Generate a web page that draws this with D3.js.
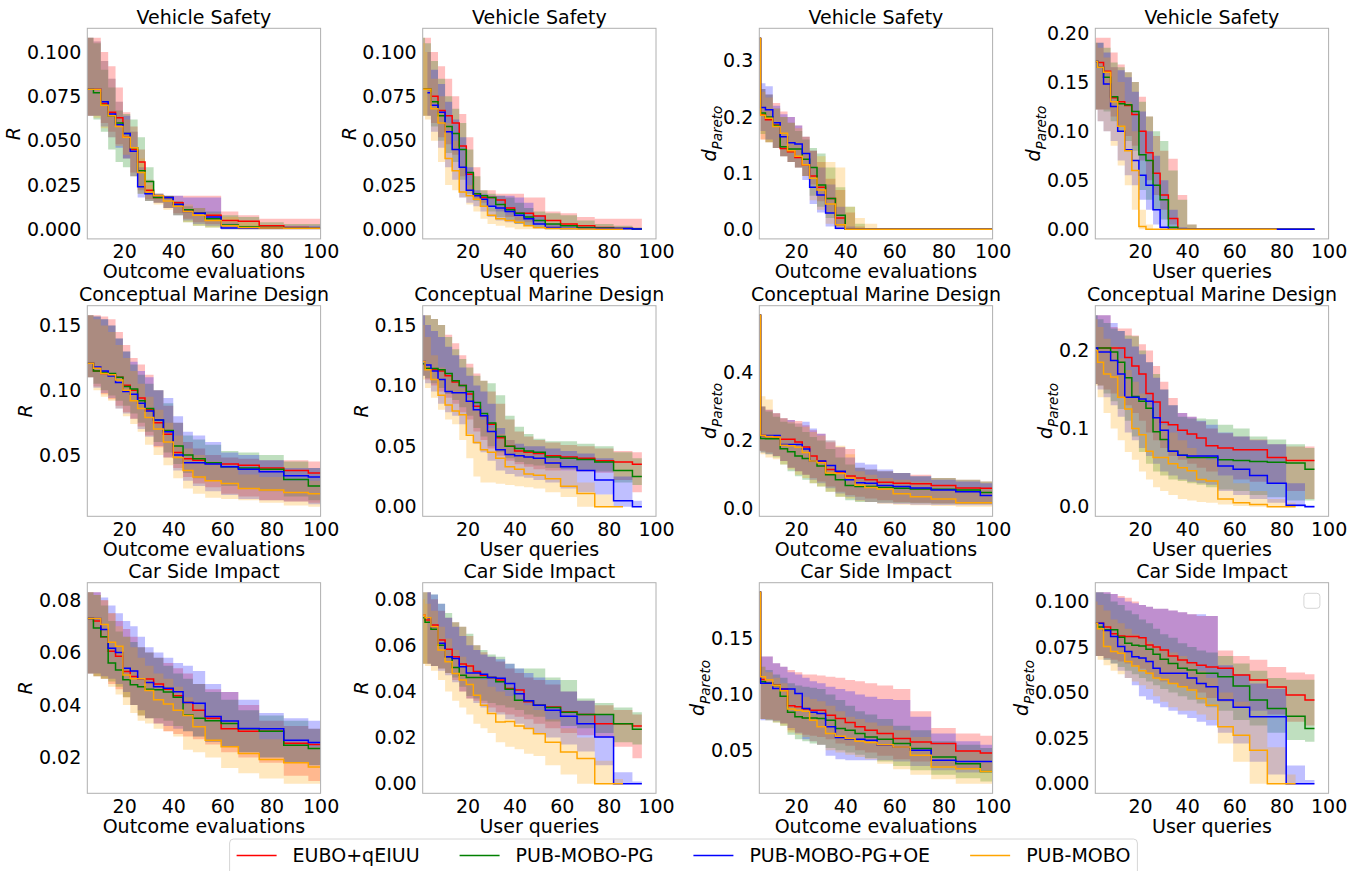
<!DOCTYPE html>
<html>
<head>
<meta charset="utf-8">
<script src="https://cdn.jsdelivr.net/npm/d3@7"></script>
<style>
  body { margin: 0; background: #fff; }
  svg text { font-family: "DejaVu Sans", sans-serif; }
</style>
</head>
<body>
<svg id="chart" width="1364" height="871"></svg>
<script>
var methods = ["EUBO+qEIUU", "PUB-MOBO-PG", "PUB-MOBO-PG+OE", "PUB-MOBO"];
var colors = ["red", "green", "blue", "orange"];

var outcomeX = [5, 6, 9, 12, 15, 18, 21, 24, 27, 30, 34, 38, 42, 46, 50, 56, 63, 70, 80, 90, 100];
var queryX = [1, 3, 6, 9, 12, 15, 18, 21, 24, 27, 30, 34, 38, 42, 46, 50, 56, 63, 70, 78, 86, 94];
var xTicks = [20, 40, 60, 80, 100];

// each block: one row per method, in the order of `methods`

// Vehicle Safety, R, outcome evaluations
var vsRoMean = [
  [0.079,0.079,0.079,0.071,0.066,0.063,0.052,0.045,0.038,0.022,0.018,0.018,0.015,0.011,0.009,0.008,0.005,0.0045,0.002,0.001,0.0006],
  [0.079,0.079,0.077,0.070,0.064,0.060,0.054,0.046,0.033,0.027,0.018,0.018,0.014,0.011,0.009,0.006,0.0025,0.0015,0.001,0.0008,0.0006],
  [0.079,0.079,0.079,0.072,0.065,0.059,0.054,0.044,0.024,0.020,0.019,0.018,0.014,0.010,0.009,0.007,0.0008,0.0008,0.0008,0.0006,0.0006],
  [0.079,0.079,0.079,0.070,0.064,0.058,0.052,0.046,0.032,0.021,0.019,0.016,0.013,0.010,0.008,0.005,0.002,0.001,0.0008,0.0006,0.0006]
];
var vsRoHi = [
  [0.108,0.108,0.108,0.100,0.092,0.080,0.066,0.058,0.045,0.028,0.020,0.019,0.019,0.019,0.019,0.019,0.010,0.008,0.006,0.006,0.006],
  [0.108,0.108,0.105,0.090,0.080,0.067,0.065,0.062,0.052,0.035,0.020,0.019,0.016,0.013,0.012,0.010,0.008,0.007,0.004,0.003,0.003],
  [0.108,0.108,0.106,0.095,0.085,0.072,0.064,0.055,0.035,0.022,0.020,0.019,0.019,0.018,0.018,0.018,0.004,0.002,0.002,0.002,0.002],
  [0.108,0.108,0.106,0.095,0.085,0.072,0.062,0.055,0.040,0.025,0.020,0.018,0.016,0.014,0.012,0.009,0.007,0.004,0.002,0.001,0.001]
];
var vsRoLo = [
  [0.064,0.064,0.064,0.060,0.055,0.048,0.040,0.032,0.022,0.017,0.015,0.012,0.009,0.006,0.004,0.003,0.001,0,0,0,0],
  [0.064,0.064,0.062,0.055,0.045,0.038,0.035,0.030,0.020,0.016,0.015,0.012,0.008,0.004,0.002,0.001,0,0,0,0,0],
  [0.064,0.064,0.064,0.058,0.052,0.046,0.040,0.030,0.018,0.016,0.015,0.012,0.008,0.005,0.003,0.002,0,0,0,0,0],
  [0.064,0.064,0.063,0.057,0.052,0.047,0.042,0.030,0.020,0.016,0.014,0.011,0.008,0.004,0.002,0.001,0,0,0,0,0]
];

// Vehicle Safety, R, user queries
var vsRqMean = [
  [0.079,0.079,0.075,0.067,0.064,0.060,0.047,0.031,0.020,0.018,0.018,0.0165,0.012,0.009,0.009,0.0075,0.005,0.003,0.002,0.001,0.0005,0.0002],
  [0.079,0.079,0.072,0.064,0.058,0.054,0.045,0.032,0.020,0.019,0.018,0.014,0.011,0.009,0.007,0.005,0.003,0.002,0.001,0.0008,0.0005,0.0002],
  [null,0.077,0.070,0.066,0.055,0.045,0.035,0.022,0.019,0.017,0.013,0.012,0.010,0.008,0.006,0.003,0.001,0.0005,0.0005,0.0005,0.0005,0.0002],
  [0.079,0.079,0.068,0.060,0.040,0.033,0.021,0.019,0.017,0.013,0.008,0.006,0.005,0.004,0.002,0.001,0.0005,0.0003,0.0002,0,0,null]
];
var vsRqHi = [
  [0.108,0.108,0.100,0.092,0.085,0.075,0.065,0.052,0.035,0.022,0.022,0.020,0.020,0.020,0.018,0.018,0.010,0.009,0.007,0.006,0.006,0.006],
  [0.108,0.105,0.095,0.085,0.075,0.068,0.060,0.045,0.030,0.022,0.020,0.019,0.018,0.015,0.012,0.010,0.009,0.008,0.005,0.003,0.002,0.001],
  [null,0.100,0.090,0.082,0.072,0.062,0.052,0.035,0.022,0.020,0.019,0.019,0.019,0.018,0.015,0.008,0.003,0.002,0.001,0.001,0.001,0.0005],
  [0.105,0.100,0.085,0.075,0.060,0.050,0.035,0.025,0.020,0.018,0.012,0.010,0.008,0.007,0.005,0.003,0.002,0.001,0.0005,0,0,null]
];
var vsRqLo = [
  [0.064,0.064,0.060,0.052,0.048,0.042,0.030,0.022,0.017,0.015,0.013,0.010,0.007,0.005,0.004,0.003,0.001,0.0005,0,0,0,0],
  [0.064,0.064,0.058,0.050,0.043,0.038,0.028,0.020,0.016,0.013,0.010,0.007,0.005,0.003,0.002,0.001,0,0,0,0,0,0],
  [null,0.064,0.055,0.046,0.035,0.028,0.018,0.015,0.013,0.010,0.007,0.005,0.004,0.003,0.002,0.0005,0,0,0,0,0,0],
  [0.064,0.062,0.050,0.038,0.025,0.022,0.018,0.014,0.010,0.006,0.003,0.002,0.001,0,0,0,0,0,0,0,0,null]
];

// Vehicle Safety, d_Pareto, outcome evaluations
var vsDoMean = [
  [0.34,0.204,0.195,0.186,0.144,0.138,0.128,0.115,0.095,0.075,0.055,0.020,0,0,0,0,0,0,0,0,0],
  [0.34,0.207,0.200,0.185,0.147,0.143,0.143,0.125,0.110,0.079,0.055,0.025,0,0,0,0,0,0,0,0,0],
  [0.34,0.217,0.213,0.190,0.165,0.154,0.152,0.135,0.075,0.061,0.029,0.002,0,0,0,0,0,0,0,0,0],
  [0.34,0.203,0.198,0.183,0.171,0.140,0.130,0.115,0.091,0.070,0.045,0.008,0,0,0,0,0,0,0,0,0]
];
var vsDoHi = [
  [0.341,0.25,0.24,0.225,0.21,0.20,0.185,0.165,0.14,0.12,0.09,0.07,0.03,0.005,0,0,0,0,0,0,0],
  [0.341,0.25,0.24,0.215,0.20,0.19,0.175,0.16,0.145,0.135,0.11,0.075,0.04,0.01,0,0,0,0,0,0,0],
  [0.341,0.26,0.255,0.22,0.205,0.20,0.185,0.165,0.14,0.11,0.08,0.04,0.005,0,0,0,0,0,0,0,0],
  [0.341,0.245,0.235,0.215,0.20,0.19,0.18,0.165,0.14,0.13,0.12,0.11,0.04,0.02,0.01,0.002,0,0,0,0,0]
];
var vsDoLo = [
  [0.30,0.16,0.155,0.145,0.13,0.12,0.11,0.095,0.08,0.05,0.03,0.005,0,0,0,0,0,0,0,0,0],
  [0.30,0.17,0.155,0.145,0.13,0.12,0.11,0.095,0.06,0.04,0.02,0.005,0,0,0,0,0,0,0,0,0],
  [0.30,0.175,0.16,0.145,0.13,0.12,0.11,0.088,0.045,0.03,0.005,0,0,0,0,0,0,0,0,0,0],
  [0.30,0.16,0.155,0.145,0.13,0.12,0.11,0.095,0.052,0.035,0.01,0,0,0,0,0,0,0,0,0,0]
];

// Vehicle Safety, d_Pareto, user queries
var vsDqMean = [
  [0.171,0.170,0.161,0.134,0.130,0.126,0.117,0.100,0.078,0.057,0.035,0.011,0,0,0,0,0,0,0,0,0,0],
  [0.171,0.165,0.155,0.135,0.128,0.127,0.120,0.076,0.070,0.045,0.030,0.002,0,0,0,0,0,0,0,0,0,0],
  [0.171,0.165,0.148,0.125,0.100,0.081,0.070,0.055,0.045,0.020,0.002,0,0,0,0,0,0,0,0,0,0,0],
  [0.171,0.165,0.160,0.130,0.105,0.080,0.060,0.003,0,0,0,0,0,0,0,0,0,0,0,0,null,null]
];
var vsDqHi = [
  [0.195,0.195,0.195,0.180,0.168,0.160,0.150,0.135,0.115,0.095,0.080,0.072,0.035,0.005,0,0,0,0,0,0,0,0],
  [0.19,0.19,0.185,0.17,0.165,0.16,0.15,0.13,0.115,0.10,0.09,0.06,0.03,0.005,0,0,0,0,0,0,0,0],
  [0.19,0.19,0.18,0.165,0.162,0.155,0.14,0.12,0.10,0.075,0.05,0.02,0.002,0,0,0,0,0,0,0,0,0],
  [0.19,0.185,0.175,0.165,0.15,0.13,0.10,0.02,0.005,0,0,0,0,0,0,0,0,0,0,0,null,null]
];
var vsDqLo = [
  [0.122,0.122,0.122,0.115,0.105,0.095,0.085,0.07,0.05,0.035,0.02,0.005,0,0,0,0,0,0,0,0,0,0],
  [0.122,0.122,0.12,0.11,0.10,0.09,0.08,0.04,0.03,0.02,0.01,0,0,0,0,0,0,0,0,0,0,0],
  [0.122,0.11,0.10,0.09,0.07,0.055,0.045,0.03,0.02,0.005,0,0,0,0,0,0,0,0,0,0,0,0],
  [0.122,0.11,0.10,0.085,0.065,0.045,0.02,0,0,0,0,0,0,0,0,0,0,0,0,0,null,null]
];

// Conceptual Marine Design, R, outcome evaluations
var cmRoMean = [
  [0.121,0.121,0.115,0.113,0.112,0.110,0.104,0.100,0.094,0.085,0.075,0.066,0.052,0.047,0.046,0.044,0.043,0.042,0.040,0.038,0.036],
  [0.121,0.121,0.115,0.114,0.113,0.110,0.103,0.101,0.092,0.086,0.077,0.069,0.057,0.050,0.047,0.044,0.041,0.040,0.039,0.031,0.026],
  [0.121,0.121,0.118,0.115,0.111,0.106,0.099,0.097,0.090,0.084,0.077,0.068,0.050,0.044,0.044,0.043,0.041,0.039,0.037,0.034,0.033],
  [0.121,0.121,0.117,0.113,0.112,0.108,0.100,0.092,0.086,0.079,0.070,0.060,0.048,0.038,0.033,0.030,0.028,0.024,0.023,0.021,0.020]
];
var cmRoHi = [
  [0.158,0.158,0.158,0.157,0.155,0.145,0.135,0.125,0.120,0.112,0.100,0.088,0.075,0.060,0.055,0.050,0.048,0.047,0.046,0.046,0.045],
  [0.158,0.158,0.157,0.155,0.150,0.140,0.130,0.120,0.112,0.105,0.100,0.090,0.075,0.065,0.062,0.058,0.053,0.052,0.050,0.045,0.040],
  [0.158,0.158,0.157,0.155,0.150,0.140,0.130,0.122,0.115,0.110,0.100,0.094,0.080,0.068,0.065,0.060,0.052,0.050,0.046,0.040,0.040],
  [0.158,0.158,0.155,0.150,0.145,0.135,0.125,0.115,0.105,0.095,0.085,0.075,0.065,0.055,0.050,0.045,0.040,0.035,0.033,0.030,0.030]
];
var cmRoLo = [
  [0.110,0.110,0.103,0.097,0.093,0.088,0.083,0.078,0.072,0.065,0.056,0.048,0.040,0.033,0.028,0.025,0.020,0.018,0.015,0.014,0.013],
  [0.110,0.110,0.105,0.100,0.096,0.092,0.088,0.082,0.075,0.068,0.060,0.052,0.043,0.036,0.032,0.030,0.026,0.024,0.022,0.018,0.015],
  [0.110,0.110,0.102,0.098,0.094,0.086,0.082,0.078,0.070,0.064,0.057,0.048,0.038,0.030,0.026,0.022,0.019,0.016,0.015,0.014,0.012],
  [0.110,0.110,0.100,0.095,0.092,0.086,0.080,0.074,0.068,0.058,0.050,0.042,0.032,0.024,0.020,0.017,0.016,0.015,0.013,0.011,0.010]
];

// Conceptual Marine Design, R, user queries
var cmRqMean = [
  [0.118,0.114,0.113,0.112,0.108,0.103,0.100,0.093,0.083,0.075,0.068,0.057,0.050,0.046,0.045,0.044,0.042,0.041,0.040,0.038,0.037,0.035],
  [0.118,0.114,0.114,0.113,0.110,0.104,0.100,0.095,0.086,0.077,0.069,0.058,0.050,0.048,0.046,0.045,0.041,0.040,0.039,0.037,0.030,0.025],
  [0.120,0.117,0.112,0.105,0.095,0.094,0.094,0.087,0.080,0.075,0.062,0.047,0.043,0.042,0.041,0.040,0.036,0.033,0.030,0.022,0.005,0.000],
  [0.120,0.113,0.105,0.092,0.084,0.079,0.076,0.059,0.053,0.047,0.045,0.040,0.033,0.031,0.027,0.026,0.023,0.017,0.011,0,0,null]
];
var cmRqHi = [
  [0.158,0.158,0.155,0.150,0.142,0.135,0.125,0.118,0.110,0.104,0.095,0.085,0.072,0.062,0.058,0.055,0.053,0.051,0.050,0.048,0.046,0.045],
  [0.158,0.158,0.155,0.150,0.140,0.130,0.122,0.115,0.108,0.104,0.102,0.092,0.075,0.066,0.060,0.056,0.054,0.054,0.052,0.050,0.045,0.040],
  [0.158,0.150,0.145,0.140,0.132,0.125,0.115,0.108,0.100,0.095,0.085,0.065,0.055,0.052,0.050,0.050,0.048,0.046,0.044,0.040,0.025,0.005],
  [0.150,0.140,0.125,0.115,0.108,0.103,0.098,0.090,0.080,0.072,0.065,0.060,0.055,0.048,0.045,0.042,0.038,0.030,0.020,0.010,0,null]
];
var cmRqLo = [
  [0.108,0.105,0.100,0.095,0.090,0.085,0.078,0.072,0.062,0.055,0.048,0.042,0.038,0.035,0.033,0.031,0.030,0.030,0.029,0.028,0.022,0.012],
  [0.108,0.106,0.102,0.098,0.093,0.088,0.082,0.075,0.065,0.058,0.050,0.045,0.040,0.037,0.035,0.034,0.032,0.031,0.030,0.029,0.020,0.018],
  [0.108,0.102,0.095,0.085,0.078,0.075,0.068,0.060,0.052,0.045,0.038,0.030,0.027,0.025,0.024,0.022,0.020,0.015,0.012,0.010,0,0],
  [0.105,0.098,0.090,0.080,0.072,0.068,0.055,0.040,0.025,0.020,0.020,0.019,0.018,0.017,0.016,0.015,0.012,0.008,0,0,0,null]
];

// Conceptual Marine Design, d_Pareto, outcome evaluations
var cmDoMean = [
  [0.567,0.215,0.212,0.210,0.204,0.204,0.196,0.181,0.155,0.139,0.115,0.108,0.096,0.090,0.085,0.078,0.075,0.073,0.068,0.061,0.060],
  [0.567,0.206,0.205,0.205,0.176,0.167,0.155,0.147,0.139,0.125,0.100,0.085,0.068,0.065,0.065,0.062,0.060,0.058,0.057,0.055,0.048],
  [0.567,0.215,0.215,0.215,0.188,0.188,0.188,0.175,0.140,0.140,0.127,0.110,0.085,0.076,0.075,0.068,0.065,0.061,0.055,0.050,0.039],
  [0.567,0.215,0.212,0.210,0.186,0.185,0.180,0.165,0.140,0.135,0.105,0.103,0.090,0.069,0.062,0.058,0.044,0.035,0.029,0.018,0.018]
];
var cmDoHi = [
  [0.567,0.30,0.29,0.28,0.265,0.26,0.257,0.245,0.23,0.22,0.195,0.18,0.175,0.12,0.115,0.11,0.105,0.10,0.09,0.085,0.08],
  [0.567,0.30,0.285,0.27,0.255,0.25,0.24,0.225,0.21,0.20,0.175,0.15,0.13,0.12,0.115,0.11,0.105,0.095,0.09,0.085,0.08],
  [0.567,0.30,0.29,0.28,0.265,0.26,0.25,0.255,0.235,0.22,0.20,0.18,0.15,0.135,0.13,0.115,0.105,0.095,0.085,0.08,0.075],
  [0.567,0.33,0.32,0.28,0.265,0.255,0.25,0.24,0.225,0.215,0.20,0.185,0.16,0.11,0.10,0.09,0.085,0.08,0.07,0.06,0.06]
];
var cmDoLo = [
  [0.17,0.17,0.165,0.155,0.14,0.12,0.11,0.10,0.09,0.08,0.065,0.05,0.04,0.035,0.03,0.025,0.02,0.018,0.016,0.015,0.015],
  [0.17,0.165,0.16,0.15,0.13,0.11,0.095,0.085,0.075,0.065,0.05,0.035,0.025,0.02,0.02,0.018,0.017,0.016,0.015,0.014,0.014],
  [0.17,0.165,0.16,0.155,0.14,0.12,0.11,0.10,0.085,0.075,0.06,0.045,0.035,0.025,0.02,0.016,0.014,0.012,0.011,0.010,0.010],
  [0.17,0.16,0.15,0.145,0.13,0.115,0.10,0.09,0.075,0.065,0.05,0.035,0.03,0.022,0.02,0.015,0.012,0.01,0.008,0.006,0.006]
];

// Conceptual Marine Design, d_Pareto, user queries
var cmDqMean = [
  [0.203,0.203,0.203,0.203,0.203,0.191,0.180,0.170,0.145,0.134,0.108,0.105,0.098,0.093,0.088,0.078,0.075,0.073,0.073,0.063,0.059,0.059],
  [0.203,0.203,0.203,0.198,0.185,0.165,0.141,0.135,0.126,0.096,0.086,0.071,0.066,0.063,0.063,0.063,0.060,0.059,0.058,0.057,0.056,0.048],
  [0.203,0.198,0.198,0.187,0.170,0.140,0.140,0.138,0.135,0.114,0.098,0.071,0.066,0.065,0.065,0.065,0.052,0.048,0.040,0.030,0.002,0.000],
  [0.200,0.185,0.170,0.166,0.140,0.125,0.100,0.092,0.071,0.063,0.063,0.055,0.050,0.046,0.035,0.033,0.010,0.005,0.003,0,0,null]
];
var cmDqHi = [
  [0.245,0.245,0.245,0.230,0.228,0.228,0.219,0.208,0.200,0.180,0.160,0.139,0.120,0.115,0.109,0.100,0.094,0.090,0.086,0.080,0.077,0.077],
  [0.245,0.240,0.235,0.228,0.225,0.219,0.218,0.200,0.185,0.170,0.150,0.130,0.115,0.113,0.113,0.112,0.105,0.100,0.090,0.086,0.080,0.075],
  [0.245,0.245,0.245,0.235,0.225,0.215,0.205,0.195,0.185,0.165,0.150,0.130,0.120,0.115,0.110,0.105,0.095,0.090,0.085,0.080,0.030,0.002],
  [0.240,0.230,0.215,0.205,0.190,0.175,0.160,0.145,0.130,0.115,0.105,0.095,0.085,0.075,0.065,0.060,0.040,0.030,0.020,0.010,0.005,null]
];
var cmDqLo = [
  [0.157,0.155,0.150,0.145,0.140,0.130,0.120,0.110,0.095,0.085,0.075,0.065,0.060,0.055,0.050,0.045,0.040,0.035,0.032,0.030,0.020,0.010],
  [0.157,0.155,0.145,0.135,0.125,0.110,0.090,0.070,0.055,0.045,0.040,0.035,0.033,0.030,0.028,0.025,0.022,0.020,0.015,0.012,0.008,0.008],
  [0.157,0.150,0.140,0.130,0.115,0.095,0.085,0.075,0.065,0.055,0.045,0.040,0.035,0.032,0.030,0.028,0.020,0.015,0.010,0.005,0,0],
  [0.155,0.140,0.120,0.100,0.085,0.070,0.060,0.045,0.035,0.025,0.020,0.015,0.010,0.008,0.006,0.005,0.003,0.001,0,0,0,null]
];

// Car Side Impact, R, outcome evaluations
var csRoMean = [
  [0.073,0.073,0.072,0.066,0.0605,0.0586,0.0528,0.0509,0.050,0.0499,0.048,0.046,0.0435,0.041,0.038,0.035,0.031,0.030,0.030,0.0254,0.025],
  [0.073,0.073,0.0694,0.066,0.056,0.0534,0.0496,0.0477,0.047,0.046,0.0458,0.045,0.043,0.0362,0.035,0.034,0.033,0.031,0.030,0.0247,0.0234],
  [0.073,0.073,0.073,0.0688,0.0617,0.060,0.054,0.053,0.050,0.0486,0.047,0.0464,0.0451,0.041,0.0407,0.0356,0.0339,0.0311,0.031,0.0266,0.0257],
  [0.073,0.073,0.073,0.0707,0.0639,0.0624,0.0515,0.050,0.050,0.0455,0.042,0.0404,0.038,0.036,0.0317,0.0266,0.0241,0.0215,0.0192,0.018,0.0164]
];
var csRoHi = [
  [0.083,0.083,0.083,0.080,0.075,0.072,0.069,0.066,0.062,0.060,0.058,0.056,0.054,0.052,0.048,0.046,0.045,0.040,0.034,0.032,0.031],
  [0.083,0.083,0.082,0.078,0.072,0.068,0.066,0.064,0.062,0.060,0.058,0.055,0.052,0.050,0.048,0.045,0.042,0.038,0.036,0.034,0.031],
  [0.083,0.083,0.083,0.081,0.078,0.075,0.072,0.070,0.066,0.062,0.060,0.058,0.056,0.055,0.053,0.048,0.045,0.042,0.037,0.035,0.034],
  [0.083,0.083,0.082,0.080,0.075,0.070,0.066,0.062,0.058,0.055,0.052,0.050,0.047,0.043,0.040,0.036,0.034,0.031,0.027,0.025,0.024]
];
var csRoLo = [
  [0.052,0.052,0.051,0.050,0.048,0.046,0.043,0.040,0.036,0.035,0.033,0.030,0.029,0.028,0.027,0.025,0.022,0.020,0.018,0.013,0.011],
  [0.052,0.052,0.051,0.050,0.049,0.047,0.043,0.040,0.036,0.035,0.035,0.034,0.032,0.030,0.028,0.026,0.024,0.022,0.020,0.018,0.017],
  [0.052,0.052,0.052,0.051,0.050,0.048,0.045,0.040,0.038,0.035,0.033,0.032,0.031,0.030,0.028,0.026,0.024,0.022,0.020,0.018,0.017],
  [0.052,0.052,0.051,0.050,0.047,0.044,0.040,0.037,0.034,0.033,0.031,0.030,0.028,0.023,0.022,0.020,0.016,0.014,0.012,0.010,0.010]
];

// Car Side Impact, R, user queries
var csRqMean = [
  [0.073,0.071,0.0688,0.0623,0.0583,0.055,0.0519,0.051,0.0486,0.047,0.046,0.045,0.0413,0.0406,0.0355,0.034,0.0333,0.0312,0.030,0.026,0.026,0.025],
  [0.072,0.070,0.067,0.060,0.055,0.0504,0.047,0.046,0.046,0.046,0.046,0.0442,0.041,0.0362,0.036,0.034,0.033,0.031,0.030,0.030,0.026,0.0236],
  [null,0.0717,0.068,0.0609,0.055,0.0543,0.0507,0.048,0.048,0.0475,0.046,0.0457,0.0435,0.039,0.036,0.034,0.0319,0.0293,0.026,0.0203,0,0],
  [0.073,0.072,0.068,0.058,0.0529,0.0478,0.045,0.043,0.0384,0.034,0.0304,0.0268,0.027,0.025,0.0239,0.0217,0.018,0.0138,0.0109,0,0,null]
];
var csRqHi = [
  [0.083,0.083,0.080,0.075,0.072,0.070,0.068,0.064,0.060,0.057,0.055,0.053,0.050,0.048,0.046,0.045,0.043,0.040,0.036,0.034,0.032,0.030],
  [0.083,0.083,0.082,0.078,0.074,0.070,0.068,0.065,0.060,0.058,0.056,0.055,0.052,0.050,0.050,0.050,0.046,0.045,0.037,0.035,0.033,0.031],
  [null,0.083,0.082,0.078,0.072,0.068,0.064,0.060,0.058,0.056,0.055,0.054,0.052,0.050,0.048,0.046,0.045,0.040,0.036,0.030,0.005,0.001],
  [0.080,0.078,0.075,0.068,0.063,0.058,0.055,0.052,0.048,0.045,0.042,0.040,0.038,0.036,0.034,0.032,0.028,0.024,0.020,0.010,0.002,null]
];
var csRqLo = [
  [0.052,0.052,0.051,0.050,0.048,0.045,0.040,0.037,0.036,0.035,0.033,0.031,0.030,0.029,0.028,0.026,0.024,0.022,0.021,0.020,0.016,0.011],
  [0.052,0.052,0.051,0.050,0.048,0.046,0.042,0.038,0.037,0.036,0.035,0.034,0.033,0.032,0.030,0.029,0.027,0.025,0.024,0.022,0.018,0.017],
  [null,0.052,0.051,0.049,0.047,0.044,0.040,0.037,0.035,0.033,0.031,0.030,0.028,0.026,0.024,0.022,0.020,0.017,0.014,0.008,0,0],
  [0.052,0.051,0.049,0.045,0.040,0.036,0.033,0.030,0.026,0.024,0.022,0.018,0.016,0.015,0.013,0.012,0.008,0.004,0,0,0,null]
];

// Car Side Impact, d_Pareto, outcome evaluations
var csDoMean = [
  [0.1917,0.1135,0.110,0.1084,0.105,0.090,0.089,0.087,0.086,0.086,0.0814,0.0784,0.075,0.071,0.068,0.065,0.0605,0.0575,0.056,0.0494,0.0476],
  [0.1917,0.1114,0.110,0.108,0.0985,0.084,0.080,0.079,0.079,0.0784,0.077,0.0695,0.068,0.065,0.062,0.060,0.056,0.0515,0.044,0.038,0.031],
  [0.1917,0.110,0.110,0.1054,0.105,0.105,0.101,0.0874,0.084,0.083,0.071,0.0614,0.060,0.060,0.059,0.0545,0.053,0.050,0.041,0.040,0.040],
  [0.1917,0.1159,0.113,0.108,0.1033,0.087,0.086,0.085,0.077,0.071,0.065,0.0626,0.0605,0.058,0.057,0.055,0.053,0.0455,0.035,0.0335,0.031]
];
var csDoHi = [
  [0.1917,0.134,0.134,0.128,0.125,0.122,0.12,0.118,0.118,0.117,0.116,0.115,0.113,0.112,0.110,0.108,0.105,0.085,0.07,0.065,0.063],
  [0.1917,0.125,0.122,0.118,0.115,0.11,0.108,0.107,0.106,0.105,0.10,0.095,0.09,0.085,0.082,0.078,0.072,0.068,0.058,0.055,0.052],
  [0.1917,0.134,0.134,0.128,0.125,0.12,0.118,0.115,0.112,0.11,0.107,0.105,0.103,0.10,0.098,0.096,0.095,0.08,0.065,0.058,0.055],
  [0.1917,0.125,0.12,0.115,0.11,0.105,0.10,0.098,0.096,0.094,0.09,0.085,0.08,0.078,0.075,0.072,0.068,0.062,0.055,0.05,0.048]
];
var csDoLo = [
  [0.11,0.078,0.078,0.077,0.074,0.068,0.066,0.064,0.063,0.062,0.060,0.056,0.054,0.050,0.048,0.045,0.042,0.040,0.036,0.034,0.032],
  [0.11,0.078,0.077,0.075,0.072,0.064,0.060,0.058,0.056,0.055,0.052,0.050,0.048,0.046,0.043,0.040,0.036,0.032,0.028,0.025,0.022],
  [0.11,0.077,0.077,0.076,0.074,0.070,0.065,0.060,0.058,0.055,0.045,0.042,0.041,0.041,0.041,0.041,0.040,0.036,0.032,0.030,0.030],
  [0.11,0.078,0.077,0.075,0.072,0.066,0.064,0.062,0.058,0.055,0.050,0.048,0.046,0.044,0.042,0.038,0.033,0.028,0.024,0.020,0.020]
];

// Car Side Impact, d_Pareto, user queries
var csDqMean = [
  [0.088,0.088,0.086,0.0822,0.081,0.0807,0.0807,0.080,0.0761,0.075,0.0734,0.070,0.0679,0.0664,0.065,0.064,0.0633,0.0596,0.0569,0.053,0.0486,0.0459],
  [0.088,0.086,0.0844,0.0844,0.0804,0.077,0.076,0.0756,0.0738,0.071,0.0683,0.066,0.0633,0.0624,0.0606,0.0606,0.0587,0.0536,0.0459,0.0413,0.037,0.0303],
  [0.088,0.088,0.084,0.0807,0.0752,0.0725,0.0697,0.069,0.067,0.0633,0.0606,0.0606,0.0606,0.058,0.055,0.0532,0.0459,0.042,0.0367,0.0367,0,0],
  [0.088,0.085,0.0752,0.0725,0.0716,0.067,0.0646,0.062,0.0606,0.058,0.0572,0.055,0.0532,0.0514,0.0468,0.0431,0.0312,0.0266,0.0183,0,0,null]
];
var csDqHi = [
  [0.105,0.105,0.105,0.104,0.103,0.102,0.100,0.098,0.097,0.096,0.096,0.095,0.094,0.093,0.092,0.092,0.073,0.070,0.068,0.064,0.061,0.060],
  [0.105,0.105,0.104,0.100,0.098,0.095,0.093,0.090,0.088,0.085,0.082,0.080,0.077,0.075,0.073,0.072,0.070,0.066,0.062,0.058,0.057,0.057],
  [0.105,0.105,0.105,0.104,0.102,0.100,0.099,0.098,0.097,0.096,0.096,0.095,0.094,0.093,0.093,0.092,0.065,0.060,0.055,0.052,0.010,0.002],
  [0.100,0.098,0.095,0.090,0.088,0.085,0.082,0.080,0.078,0.076,0.074,0.072,0.070,0.066,0.062,0.058,0.050,0.045,0.040,0.020,0.005,null]
];
var csDqLo = [
  [0.070,0.070,0.069,0.068,0.067,0.066,0.065,0.063,0.060,0.058,0.056,0.055,0.053,0.052,0.050,0.047,0.045,0.042,0.040,0.038,0.034,0.032],
  [0.070,0.070,0.068,0.066,0.064,0.062,0.060,0.058,0.056,0.054,0.052,0.050,0.048,0.046,0.044,0.042,0.040,0.035,0.032,0.028,0.024,0.023],
  [0.070,0.070,0.068,0.066,0.062,0.058,0.054,0.048,0.046,0.044,0.042,0.040,0.038,0.036,0.034,0.032,0.028,0.022,0.012,0.005,0,0],
  [0.070,0.068,0.065,0.062,0.060,0.058,0.056,0.054,0.052,0.048,0.045,0.042,0.040,0.040,0.038,0.035,0.022,0.012,0,0,0,null]
];

// y tick values for each panel
var vsRoTicks = [0, 0.025, 0.05, 0.075, 0.1];
var vsRqTicks = [0, 0.025, 0.05, 0.075, 0.1];
var vsDoTicks = [0, 0.1, 0.2, 0.3];
var vsDqTicks = [0, 0.05, 0.1, 0.15, 0.2];
var cmRoTicks = [0.05, 0.1, 0.15];
var cmRqTicks = [0, 0.05, 0.1, 0.15];
var cmDoTicks = [0, 0.2, 0.4];
var cmDqTicks = [0, 0.1, 0.2];
var csRoTicks = [0.02, 0.04, 0.06, 0.08];
var csRqTicks = [0, 0.02, 0.04, 0.06, 0.08];
var csDoTicks = [0.05, 0.1, 0.15];
var csDqTicks = [0, 0.025, 0.05, 0.075, 0.1];

var panels = [
  { title: "Vehicle Safety", metric: "R", xs: outcomeX, xlabel: "Outcome evaluations", mean: vsRoMean, lo: vsRoLo, hi: vsRoHi, ticks: vsRoTicks, fmt: ".3f" },
  { title: "Vehicle Safety", metric: "R", xs: queryX, xlabel: "User queries", mean: vsRqMean, lo: vsRqLo, hi: vsRqHi, ticks: vsRqTicks, fmt: ".3f" },
  { title: "Vehicle Safety", metric: "d", xs: outcomeX, xlabel: "Outcome evaluations", mean: vsDoMean, lo: vsDoLo, hi: vsDoHi, ticks: vsDoTicks, fmt: ".1f" },
  { title: "Vehicle Safety", metric: "d", xs: queryX, xlabel: "User queries", mean: vsDqMean, lo: vsDqLo, hi: vsDqHi, ticks: vsDqTicks, fmt: ".2f" },
  { title: "Conceptual Marine Design", metric: "R", xs: outcomeX, xlabel: "Outcome evaluations", mean: cmRoMean, lo: cmRoLo, hi: cmRoHi, ticks: cmRoTicks, fmt: ".2f" },
  { title: "Conceptual Marine Design", metric: "R", xs: queryX, xlabel: "User queries", mean: cmRqMean, lo: cmRqLo, hi: cmRqHi, ticks: cmRqTicks, fmt: ".2f" },
  { title: "Conceptual Marine Design", metric: "d", xs: outcomeX, xlabel: "Outcome evaluations", mean: cmDoMean, lo: cmDoLo, hi: cmDoHi, ticks: cmDoTicks, fmt: ".1f" },
  { title: "Conceptual Marine Design", metric: "d", xs: queryX, xlabel: "User queries", mean: cmDqMean, lo: cmDqLo, hi: cmDqHi, ticks: cmDqTicks, fmt: ".1f" },
  { title: "Car Side Impact", metric: "R", xs: outcomeX, xlabel: "Outcome evaluations", mean: csRoMean, lo: csRoLo, hi: csRoHi, ticks: csRoTicks, fmt: ".2f" },
  { title: "Car Side Impact", metric: "R", xs: queryX, xlabel: "User queries", mean: csRqMean, lo: csRqLo, hi: csRqHi, ticks: csRqTicks, fmt: ".2f" },
  { title: "Car Side Impact", metric: "d", xs: outcomeX, xlabel: "Outcome evaluations", mean: csDoMean, lo: csDoLo, hi: csDoHi, ticks: csDoTicks, fmt: ".2f" },
  { title: "Car Side Impact", metric: "d", xs: queryX, xlabel: "User queries", mean: csDqMean, lo: csDqLo, hi: csDqHi, ticks: csDqTicks, fmt: ".3f" }
];

// sanity check on the hand typed arrays
panels.forEach(function (p, k) {
  [p.mean, p.lo, p.hi].forEach(function (arr, a) {
    arr.forEach(function (s, i) {
      if (s.length !== p.xs.length) throw new Error("panel " + k + " array " + a + " series " + i + " has " + s.length);
    });
  });
});

var svg = d3.select("#chart");
svg.append("rect").attr("width", 1364).attr("height", 871).attr("fill", "#fff");

var plotW = 233.3, plotH = 210.6;
var colLeft = [87.3, 422.7, 759.3, 1095.3];
var rowTop = [28.3, 305.7, 582.7];
var fontSize = 19;

panels.forEach(function (p, k) {
  var r = Math.floor(k / 4), c = k % 4;
  var g = svg.append("g").attr("transform", "translate(" + colLeft[c] + "," + rowTop[r] + ")");

  var x = d3.scaleLinear().domain([p.xs[0], d3.max(xTicks)]).range([0, plotW]);

  var vals = [];
  [p.mean, p.lo, p.hi].forEach(function (arr) {
    arr.forEach(function (s) { s.forEach(function (v) { if (v != null) vals.push(v); }); });
  });
  var vmin = d3.min(vals), vmax = d3.max(vals), pad = (vmax - vmin) * 0.05;
  var y = d3.scaleLinear().domain([vmin - pad, vmax + pad]).range([plotH, 0]);

  g.append("clipPath").attr("id", "clip" + k)
    .append("rect").attr("width", plotW).attr("height", plotH);

  var plot = g.append("g").attr("clip-path", "url(#clip" + k + ")");

  var series = methods.map(function (m, i) {
    return p.xs.map(function (xv, j) {
      return { x: xv, m: p.mean[i][j], lo: p.lo[i][j], hi: p.hi[i][j] };
    });
  });

  var area = d3.area()
    .defined(function (d) { return d.lo != null && d.hi != null; })
    .curve(d3.curveStep)
    .x(function (d) { return x(d.x); })
    .y0(function (d) { return y(d.lo); })
    .y1(function (d) { return y(d.hi); });

  var line = d3.line()
    .defined(function (d) { return d.m != null; })
    .curve(d3.curveStep)
    .x(function (d) { return x(d.x); })
    .y(function (d) { return y(d.m); });

  // bands first, lines on top (as matplotlib z-order does)
  series.forEach(function (s, i) {
    plot.append("path").attr("d", area(s))
      .attr("fill", colors[i]).attr("fill-opacity", 0.25).attr("stroke", "none");
  });
  series.forEach(function (s, i) {
    plot.append("path").attr("d", line(s))
      .attr("fill", "none").attr("stroke", colors[i]).attr("stroke-width", 1.5);
  });

  g.append("rect").attr("width", plotW).attr("height", plotH)
    .attr("fill", "none").attr("stroke", "#b0b0b0").attr("stroke-width", 1);

  var yAxis = g.append("g")
    .call(d3.axisLeft(y).tickValues(p.ticks).tickFormat(d3.format(p.fmt)).tickSize(0).tickPadding(6));
  yAxis.select(".domain").remove();
  yAxis.selectAll("text").attr("font-size", fontSize).attr("fill", "#000")
    .attr("font-family", "DejaVu Sans");

  var xAxis = g.append("g").attr("transform", "translate(0," + plotH + ")")
    .call(d3.axisBottom(x).tickValues(xTicks).tickFormat(d3.format("d")).tickSize(0).tickPadding(6));
  xAxis.select(".domain").remove();
  xAxis.selectAll("text").attr("font-size", fontSize).attr("fill", "#000")
    .attr("font-family", "DejaVu Sans");

  g.append("text").attr("x", plotW / 2).attr("y", -4.5)
    .attr("text-anchor", "middle").attr("font-size", fontSize).text(p.title);

  g.append("text").attr("x", plotW / 2).attr("y", plotH + 39.5)
    .attr("text-anchor", "middle").attr("font-size", fontSize).text(p.xlabel);

  var bx = yAxis.node().getBBox().x;
  if (p.metric === "R") {
    g.append("text")
      .attr("transform", "translate(" + (bx - 6.5) + "," + plotH / 2 + ") rotate(-90)")
      .attr("text-anchor", "middle").attr("font-size", fontSize).attr("font-style", "italic")
      .text("R");
  } else {
    var lab = g.append("text")
      .attr("transform", "translate(" + (bx - 7) + "," + plotH / 2 + ") rotate(-90)")
      .attr("text-anchor", "middle").attr("font-size", fontSize).attr("font-style", "italic");
    lab.append("tspan").text("d");
    lab.append("tspan").attr("font-size", 13.5).attr("dy", 6).text("Pareto");
  }

  // the empty legend box left on the last panel
  if (k === panels.length - 1) {
    g.append("rect").attr("x", plotW - 24.7).attr("y", 10.6).attr("width", 16).attr("height", 15)
      .attr("rx", 3).attr("fill", "#fff").attr("stroke", "#d6d6d6");
  }
});

// figure legend along the bottom
var legend = svg.append("g");
var lx = 7;
methods.forEach(function (m, i) {
  legend.append("line").attr("x1", lx).attr("x2", lx + 40).attr("y1", 0).attr("y2", 0)
    .attr("stroke", colors[i]).attr("stroke-width", 1.5);
  var t = legend.append("text").attr("x", lx + 56).attr("y", 0).attr("dy", "0.34em")
    .attr("font-size", fontSize).text(m);
  lx += 56 + t.node().getComputedTextLength() + 40;
});
var boxW = lx - 40 + 7;
legend.insert("rect", ":first-child").attr("x", 0).attr("y", -16.5).attr("width", boxW).attr("height", 45)
  .attr("rx", 4).attr("fill", "#fff").attr("stroke", "#d6d6d6");
legend.attr("transform", "translate(" + (683.5 - boxW / 2) + ",855.5)");
</script>
</body>
</html>
